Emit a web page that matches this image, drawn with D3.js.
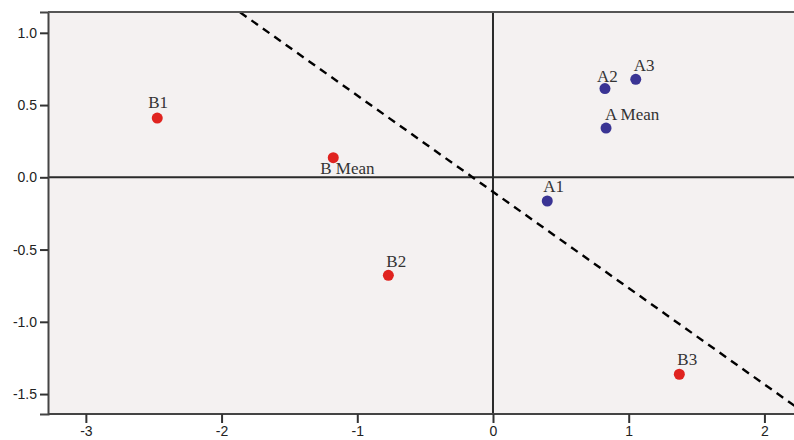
<!DOCTYPE html>
<html><head><meta charset="utf-8">
<script src="https://cdn.jsdelivr.net/npm/d3@7"></script>
<style>body{margin:0;background:#fff}svg{display:block}</style>
</head><body><svg id="c" width="794" height="440"></svg>
<script>
const labels = ["B1","B Mean","B2","B3","A1","A2","A3","A Mean"];
const groups = ["B","B","B","B","A","A","A","A"];
const xValues = [-2.474,-1.177,-0.771,1.373,0.40,0.825,1.052,0.833];
const yValues = [0.41,0.136,-0.678,-1.363,-0.164,0.614,0.678,0.341];
const xTicks = [-3,-2,-1,0,1,2];
const yTicks = [1.0,0.5,0.0,-0.5,-1.0,-1.5];
const lineX = [-1.864, 2.3];
const lineY = [1.142, -1.633];

const svg = d3.select("#c");
const L = 48, R = 794, T = 12, B = 414;
const x = d3.scaleLinear().domain([-3.279, 2.218]).range([L, R]);
const y = d3.scaleLinear().domain([-1.638, 1.144]).range([B, T]);

svg.append("rect").attr("x", L).attr("y", T).attr("width", R - L).attr("height", B - T).attr("fill", "#f4f1f1");
svg.append("defs").append("clipPath").attr("id","clip").append("rect").attr("x", L).attr("y", T).attr("width", R - L).attr("height", B - T);

const g = svg.append("g").attr("clip-path","url(#clip)");
// zero lines
g.append("line").attr("x1", L).attr("x2", R).attr("y1", y(0)).attr("y2", y(0)).attr("stroke", "#2a2a2a").attr("stroke-width", 2);
g.append("line").attr("x1", x(0)).attr("x2", x(0)).attr("y1", T).attr("y2", B).attr("stroke", "#2a2a2a").attr("stroke-width", 2);
// dashed line
g.append("line").attr("x1", x(lineX[0])).attr("y1", y(lineY[0])).attr("x2", x(lineX[1])).attr("y2", y(lineY[1]))
  .attr("stroke", "#000").attr("stroke-width", 2.4).attr("stroke-dasharray", "8,6");

// axes
const fmtY = d => d.toFixed(1);
const fmtX = d => String(d);
const yAxis = svg.append("g").attr("transform", `translate(${L},0)`).call(d3.axisLeft(y).tickValues(yTicks).tickFormat(fmtY).tickSize(8).tickPadding(3));
const xAxis = svg.append("g").attr("transform", `translate(0,${B})`).call(d3.axisBottom(x).tickValues(xTicks).tickFormat(fmtX).tickSize(9).tickPadding(3));
[yAxis, xAxis].forEach(a => {
  a.select(".domain").attr("stroke", "#444").attr("stroke-width", 2);
  a.selectAll(".tick line").attr("stroke", "#333").attr("stroke-width", 2);
  a.selectAll(".tick text").attr("font-family", "Liberation Sans, Arial, sans-serif").attr("font-size", 14).attr("fill", "#222");
});
xAxis.select(".domain").attr("d", `M${L},0H${R}`);
// top border
svg.append("line").attr("x1", L).attr("x2", R).attr("y1", T).attr("y2", T).attr("stroke", "#555").attr("stroke-width", 2);

// points
const data = labels.map((l, i) => ({label: l, group: groups[i], x: xValues[i], y: yValues[i]}));
const color = {A: "#3a3494", B: "#e0231f"};
g.selectAll("circle").data(data).enter().append("circle")
  .attr("cx", d => x(d.x)).attr("cy", d => y(d.y)).attr("r", 5.5).attr("fill", d => color[d.group]);

// label placement (offsets in px)
const place = {"B1":[-9,-10],"B Mean":[-13,16],"B2":[-2,-8],"B3":[-2,-9],"A1":[-4,-9],"A2":[-8,-7],"A3":[-2,-8],"A Mean":[-1,-8]};
svg.selectAll("text.lbl").data(data).enter().append("text").attr("class","lbl")
  .attr("x", d => x(d.x) + place[d.label][0]).attr("y", d => y(d.y) + place[d.label][1])
  .attr("font-family", "Liberation Serif, Times New Roman, serif").attr("font-size", 17).attr("fill", "#333")
  .text(d => d.label);
</script></body></html>
